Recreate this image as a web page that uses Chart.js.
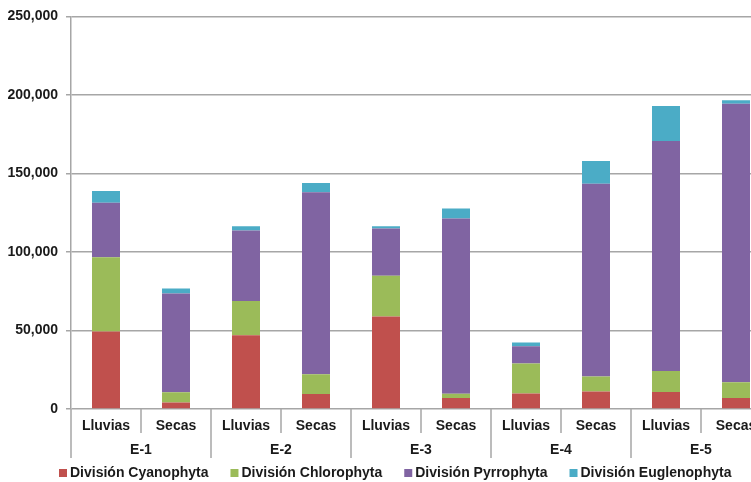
<!DOCTYPE html>
<html>
<head>
<meta charset="utf-8">
<script src="https://cdn.jsdelivr.net/npm/chart.js@4/dist/chart.umd.min.js"></script>
<style>
  html, body { margin: 0; padding: 0; background: #fff; overflow: hidden; }
  #wrap { width: 788px; height: 482px; }
</style>
</head>
<body>
<div id="wrap"><canvas id="chart" width="788" height="482"></canvas></div>
<script>
// Categories: season inside each station
const seasons = ['Lluvias', 'Secas', 'Lluvias', 'Secas', 'Lluvias', 'Secas', 'Lluvias', 'Secas', 'Lluvias', 'Secas'];
const stations = ['E-1', 'E-2', 'E-3', 'E-4', 'E-5'];

// Values
const cyanophyta   = [49400, 4200, 47000, 9500, 58900, 7000, 9900, 11200, 10800, 7000];
const chlorophyta  = [47200, 6400, 21800, 12700, 25900, 2700, 19000, 9500, 13400, 10100];
const pyrrophyta   = [34800, 63000, 44900, 115800, 30200, 111600, 11000, 122800, 146500, 177200];
const euglenophyta = [7400, 3200, 2600, 5900, 1300, 6400, 2500, 14500, 22300, 2300];

const yTicks = [0, 50000, 100000, 150000, 200000, 250000];

const FONT = { family: '"Liberation Sans", Arial, sans-serif', size: 14, weight: 'bold' };
const FONT_CSS = 'bold 14px "Liberation Sans", Arial, sans-serif';
const TEXT = '#1a1a1a';
const LINE = '#a6a6a6';

// separators under the x axis, station labels and the legend row
const groupAxis = {
    id: 'groupAxis',
    afterDraw(chart) {
        const ctx = chart.ctx;
        const x = chart.scales.x;
        const top = chart.chartArea.bottom;
        const step = x.getPixelForValue(1) - x.getPixelForValue(0);
        ctx.save();
        ctx.strokeStyle = LINE;
        ctx.lineWidth = 1.5;
        for (let i = 0; i <= seasons.length; i++) {
            const px = Math.round(x.getPixelForValue(i) - step / 2);
            const len = (i % 2 === 0) ? 49 : 24;
            ctx.beginPath();
            ctx.moveTo(px, top);
            ctx.lineTo(px, top + len);
            ctx.stroke();
        }
        ctx.fillStyle = TEXT;
        ctx.font = FONT_CSS;
        ctx.textAlign = 'center';
        ctx.textBaseline = 'middle';
        stations.forEach((s, g) => {
            const cx = x.getPixelForValue(g * 2) + step / 2;
            ctx.fillText(s, cx, top + 41);
        });

        // legend
        const sets = chart.data.datasets;
        const box = 8, gapText = 3, gapItem = 22;
        const widths = sets.map(d => box + gapText + ctx.measureText(d.label).width);
        const total = widths.reduce((a, b) => a + b, 0) + gapItem * (sets.length - 1);
        let lx = Math.round(395 - total / 2);
        const ly = chart.height - 9;
        ctx.textAlign = 'left';
        sets.forEach((d, i) => {
            ctx.fillStyle = d.backgroundColor;
            ctx.fillRect(lx, ly - box / 2, box, box);
            ctx.fillStyle = TEXT;
            ctx.fillText(d.label, lx + box + gapText, ly);
            lx += widths[i] + gapItem;
        });
        ctx.restore();
    }
};

const ctx = document.getElementById('chart').getContext('2d');
new Chart(ctx, {
    type: 'bar',
    data: {
        labels: seasons,
        datasets: [
            { label: 'División Cyanophyta', data: cyanophyta, backgroundColor: '#C0504D' },
            { label: 'División Chlorophyta', data: chlorophyta, backgroundColor: '#9BBB59' },
            { label: 'División Pyrrophyta', data: pyrrophyta, backgroundColor: '#8064A2' },
            { label: 'División Euglenophyta', data: euglenophyta, backgroundColor: '#4BACC6' }
        ]
    },
    options: {
        responsive: false,
        animation: false,
        layout: { padding: { top: 5, left: 0, right: 17, bottom: 23 } },
        datasets: {
            bar: { barPercentage: 0.4, categoryPercentage: 1.0 }
        },
        plugins: {
            tooltip: { enabled: false },
            legend: { display: false }
        },
        scales: {
            x: {
                stacked: true,
                offset: true,
                grid: { display: false, drawTicks: false },
                border: { display: false },
                ticks: { color: TEXT, font: FONT, padding: 9, maxRotation: 0 },
                afterFit(scale) { scale.height = 50; }
            },
            y: {
                stacked: true,
                min: 0,
                max: 250000,
                afterBuildTicks(scale) { scale.ticks = yTicks.map(v => ({ value: v })); },
                afterFit(scale) { scale.width = 71; },
                grid: { color: LINE, lineWidth: 1.5, tickLength: 5 },
                border: { color: LINE, width: 1.5 },
                ticks: {
                    color: TEXT,
                    font: FONT,
                    padding: 8,
                    callback: v => v.toLocaleString('en-US')
                }
            }
        }
    },
    plugins: [groupAxis]
});
</script>
</body>
</html>
